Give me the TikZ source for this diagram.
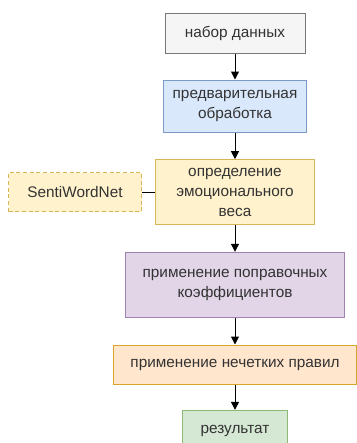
\documentclass[tikz,border=0pt]{standalone}
\usepackage{fontspec}
\setmainfont{Liberation Sans}
\usetikzlibrary{positioning,arrows.meta}

\definecolor{grayfill}{HTML}{F5F5F5}\definecolor{grayline}{HTML}{777777}
\definecolor{bluefill}{HTML}{DAE8FC}\definecolor{blueline}{HTML}{7C9AC6}
\definecolor{yellowfill}{HTML}{FFF2CC}\definecolor{yellowline}{HTML}{D6B656}
\definecolor{purplefill}{HTML}{E1D5E7}\definecolor{purpleline}{HTML}{9F82AD}
\definecolor{orangefill}{HTML}{FFE6CC}\definecolor{orangeline}{HTML}{D7A52A}
\definecolor{greenfill}{HTML}{D5E8D4}\definecolor{greenline}{HTML}{8DB975}

\begin{document}
\begin{tikzpicture}[node distance=19.5pt,
    every node/.style={draw, align=center, inner sep=2pt, line width=0.75pt,
      font=\fontsize{11.5}{15}\selectfont, text=black!80},
    stage/.style 2 args={fill=#1fill, draw=#1line, minimum width=#2},
    arr/.style={-{Triangle[length=6pt,width=6pt]}, line width=0.75pt}]
  \useasboundingbox (0,0) rectangle (267.75pt,-332.25pt);
  \node[stage={gray}{105pt}, minimum height=30pt] (data) at (176.25pt,-24.75pt) {набор данных};
  \node[stage={blue}{107.25pt}, minimum height=39pt, below=of data] (prep) {предварительная\\обработка};
  \node[stage={yellow}{119.25pt}, minimum height=48.75pt, below=20pt of prep] (weight) {определение\\эмоционального\\веса};
  \node[stage={yellow}{99.75pt}, minimum height=29.25pt, dash pattern=on 3pt off 2pt,
    left=9.75pt of weight] (swn) {SentiWordNet};
  \node[stage={purple}{164.25pt}, minimum height=48.75pt, below=20pt of weight] (coef) {применение поправочных\\коэффициентов};
  \node[stage={orange}{182.25pt}, minimum height=29.25pt, below=20pt of coef] (fuzzy) {применение нечетких правил};
  \node[stage={green}{78.75pt}, minimum height=31pt, below=19pt of fuzzy] (res) {результат};
  \draw[arr] (data) -- (prep);
  \draw[arr] (prep) -- (weight);
  \draw[arr] (weight) -- (coef);
  \draw[arr] (coef) -- (fuzzy);
  \draw[arr] (fuzzy) -- (res);
  \draw[line width=0.75pt] (swn) -- (weight);
\end{tikzpicture}
\end{document}
